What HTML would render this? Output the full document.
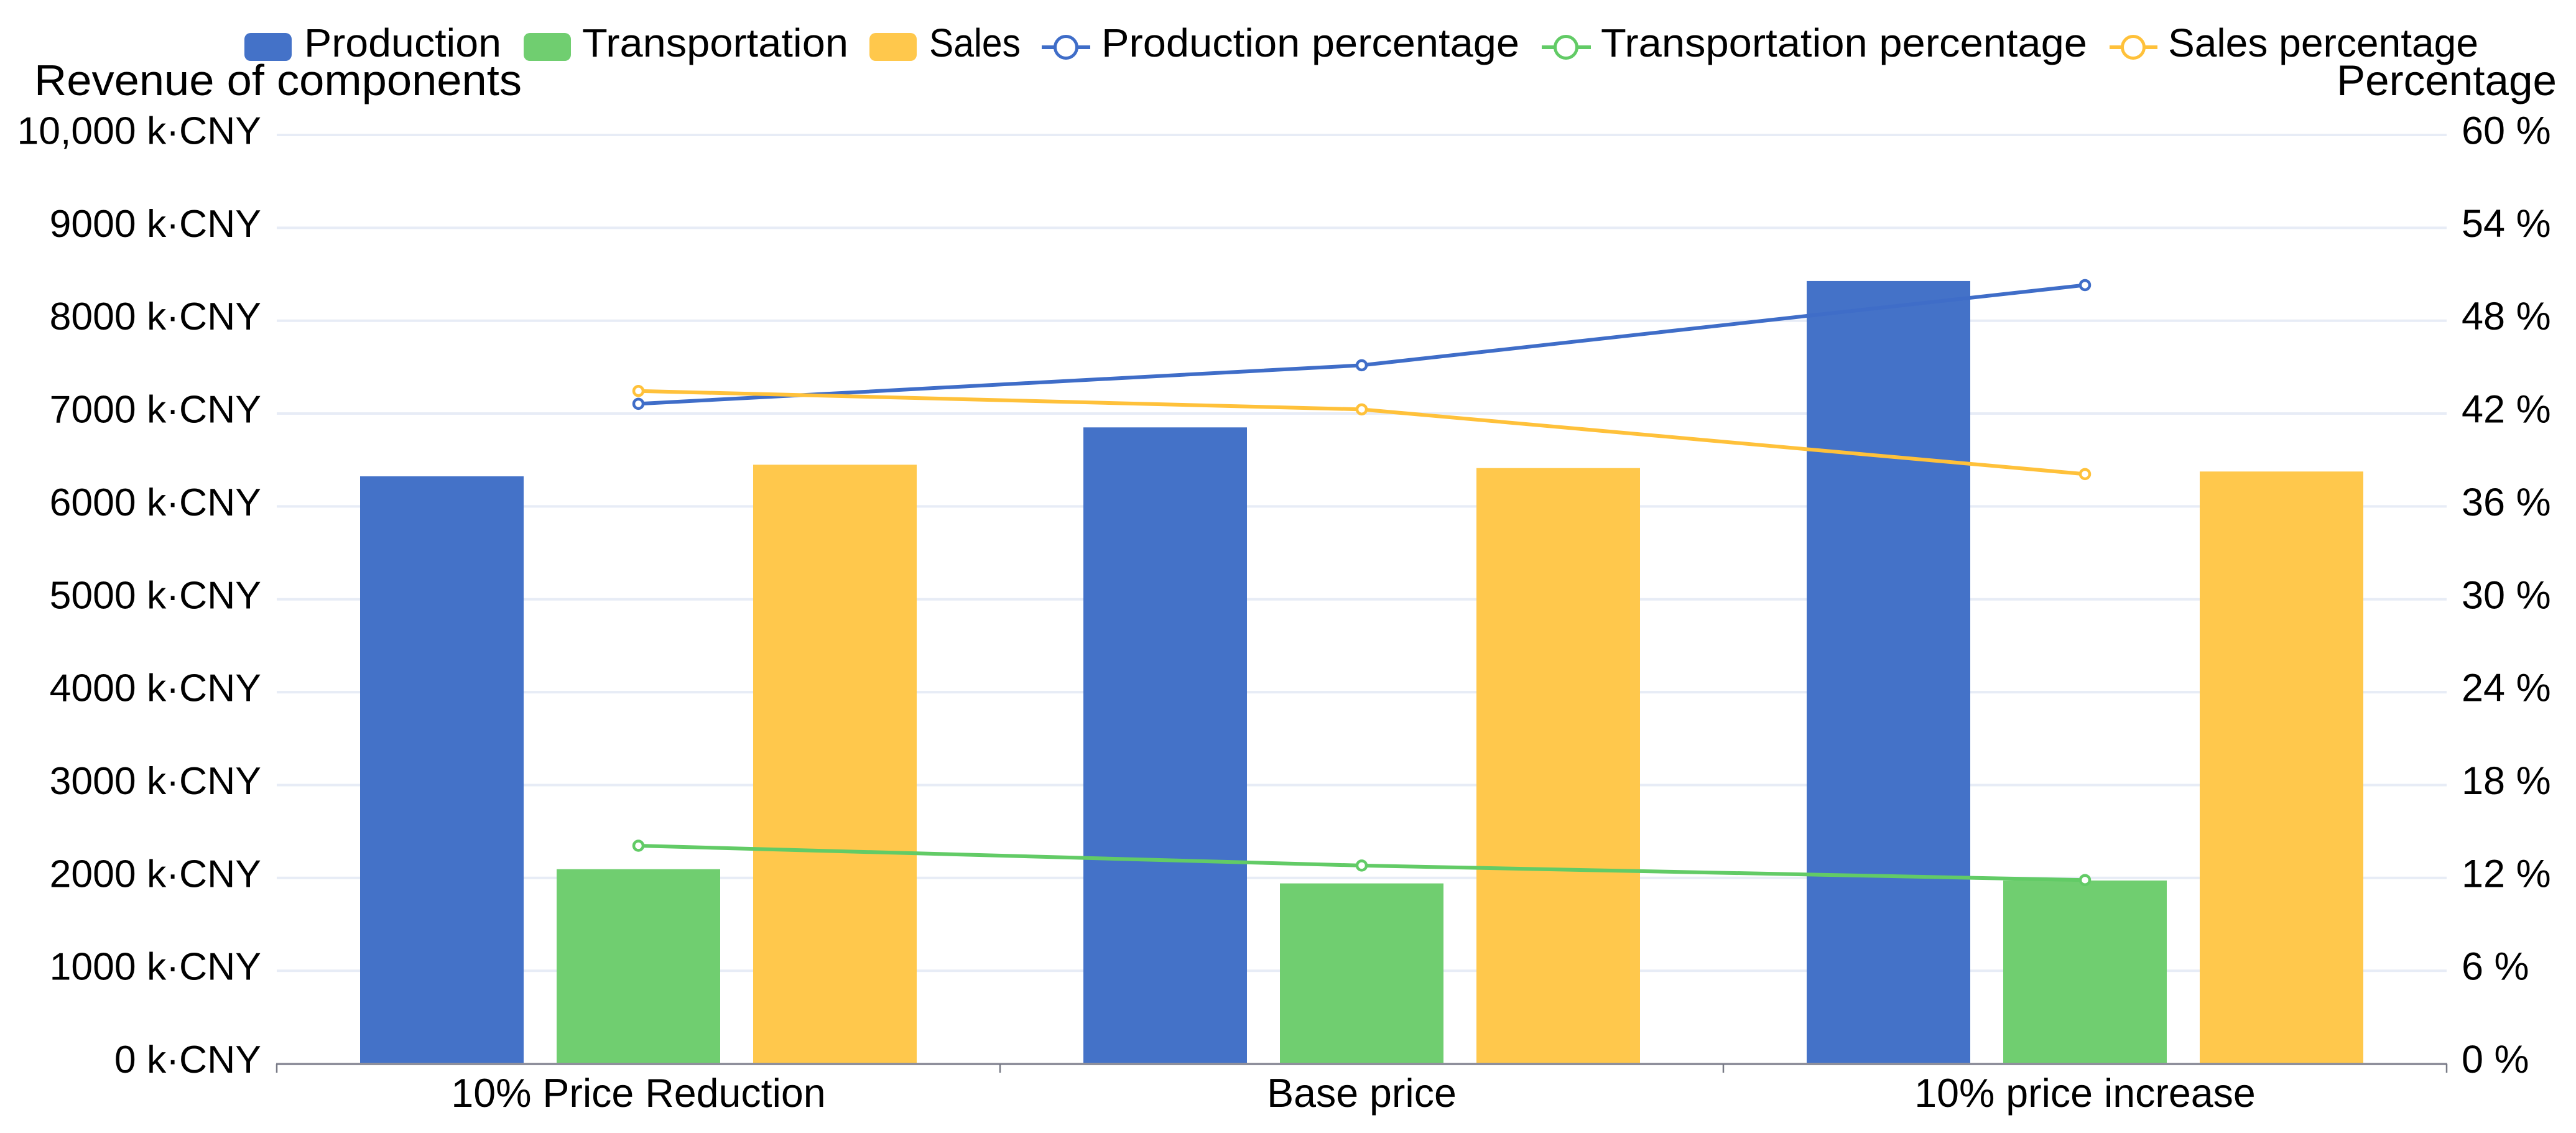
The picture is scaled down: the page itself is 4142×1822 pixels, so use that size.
<!DOCTYPE html>
<html lang="en">
<head>
<meta charset="utf-8">
<title>Revenue of components</title>
<style>
html,body{margin:0;padding:0;background:#fff;width:4142px;height:1822px;overflow:hidden}
svg{display:block}
text{font-family:"Liberation Sans",Arial,sans-serif;fill:#000}
</style>
</head>
<body>
<svg id="chart" xmlns="http://www.w3.org/2000/svg" width="4142" height="1822" viewBox="0 0 4142 1822">
  <rect x="0" y="0" width="4142" height="1822" fill="#ffffff"/>
  <g id="grid"></g>
  <g id="bars"></g>
  <g id="axis"></g>
  <g id="lines"></g>
  <g id="ticks"></g>

  <text x="55" y="153" font-size="70" textLength="784" lengthAdjust="spacingAndGlyphs">Revenue of components</text>
  <text x="3757" y="153" font-size="69" textLength="354" lengthAdjust="spacingAndGlyphs">Percentage</text>

  <g font-size="64">
    <g>
      <rect x="393" y="53" width="76" height="45" rx="10" fill="#4472C8"/>
      <text x="489" y="91" font-size="64" textLength="317" lengthAdjust="spacingAndGlyphs">Production</text>
    </g>
    <g>
      <rect x="842" y="53" width="76" height="45" rx="10" fill="#70CE70"/>
      <text x="936" y="91" font-size="64" textLength="428" lengthAdjust="spacingAndGlyphs">Transportation</text>
    </g>
    <g>
      <rect x="1398" y="53" width="76" height="45" rx="10" fill="#FFC84C"/>
      <text x="1494" y="91" font-size="64" textLength="147" lengthAdjust="spacingAndGlyphs">Sales</text>
    </g>
    <g>
      <line x1="1675" y1="76" x2="1753" y2="76" stroke="#3F6DC8" stroke-width="6"/>
      <circle cx="1714" cy="76" r="17.5" fill="#fff" stroke="#3F6DC8" stroke-width="5"/>
      <text x="1771" y="91" font-size="64" textLength="672" lengthAdjust="spacingAndGlyphs">Production percentage</text>
    </g>
    <g>
      <line x1="2479" y1="76" x2="2558" y2="76" stroke="#62CB66" stroke-width="6"/>
      <circle cx="2518" cy="76" r="17.5" fill="#fff" stroke="#62CB66" stroke-width="5"/>
      <text x="2574" y="91" font-size="64" textLength="782" lengthAdjust="spacingAndGlyphs">Transportation percentage</text>
    </g>
    <g>
      <line x1="3392" y1="76" x2="3469" y2="76" stroke="#FFC13A" stroke-width="6"/>
      <circle cx="3430" cy="76" r="17.5" fill="#fff" stroke="#FFC13A" stroke-width="5"/>
      <text x="3486" y="91" font-size="64" textLength="499" lengthAdjust="spacingAndGlyphs">Sales percentage</text>
    </g>
  </g>
</svg>
<script>
// Chart data
const categories = ["10% Price Reduction", "Base price", "10% price increase"];
const categorySlugs = ["price-reduction", "base-price", "price-increase"];
const production = [6324, 6851, 8427];
const transportation = [2094, 1941, 1972];
const sales = [6449, 6413, 6376];
const productionPct = [42.63, 45.12, 50.3];
const transportationPct = [14.08, 12.8, 11.86];
const salesPct = [43.46, 42.27, 38.09];
const leftTickValues = [0, 1000, 2000, 3000, 4000, 5000, 6000, 7000, 8000, 9000, 10000];
const leftTickLabels = ["0 k·CNY", "1000 k·CNY", "2000 k·CNY", "3000 k·CNY", "4000 k·CNY", "5000 k·CNY", "6000 k·CNY", "7000 k·CNY", "8000 k·CNY", "9000 k·CNY", "10,000 k·CNY"];
const rightTickValues = [0, 6, 12, 18, 24, 30, 36, 42, 48, 54, 60];
const rightTickLabels = ["0 %", "6 %", "12 %", "18 %", "24 %", "30 %", "36 %", "42 %", "48 %", "54 %", "60 %"];

// Layout
const plotLeft = 445, plotRight = 3934, plotBottom = 1710.5, plotTop = 217;
const leftMax = 10000, rightMax = 60;
const bandWidth = (plotRight - plotLeft) / categories.length;
const barWidth = 263, barStep = 316;

function yLeft(v) { return plotBottom - (v / leftMax) * (plotBottom - plotTop); }
function yRight(v) { return plotBottom - (v / rightMax) * (plotBottom - plotTop); }
function xCenter(i) { return plotLeft + bandWidth * (i + 0.5); }

const NS = "http://www.w3.org/2000/svg";
function make(tag, attrs, parent) {
  const el = document.createElementNS(NS, tag);
  for (const k in attrs) el.setAttribute(k, attrs[k]);
  parent.appendChild(el);
  return el;
}

const gridG = document.getElementById("grid");
const barsG = document.getElementById("bars");
const axisG = document.getElementById("axis");
const linesG = document.getElementById("lines");
const ticksG = document.getElementById("ticks");

// Gridlines (skip the baseline, which is the axis)
leftTickValues.forEach(function (v) {
  if (v === 0) return;
  const y = yLeft(v);
  const el = make("line", { x1: plotLeft, x2: plotRight, y1: y, y2: y, stroke: "#E7ECF6", "stroke-width": 4 }, gridG);
  
  
});

// Bars
const barSeries = [
  { name: "production", values: production, color: "#4472C8", offset: -1 },
  { name: "transportation", values: transportation, color: "#70CE70", offset: 0 },
  { name: "sales", values: sales, color: "#FFC84C", offset: 1 }
];
barSeries.forEach(function (s) {
  s.values.forEach(function (v, i) {
    const cx = xCenter(i) + s.offset * barStep;
    const top = yLeft(v);
    const el = make("rect", { x: cx - barWidth / 2, y: top, width: barWidth, height: plotBottom - top, fill: s.color }, barsG);
    
    
  });
});

// X axis line, ticks and labels
const axisLine = make("line", { x1: plotLeft - 1, x2: plotRight + 1, y1: 1711, y2: 1711, stroke: "#8F909C", "stroke-width": 4 }, axisG);


for (let i = 0; i <= categories.length; i++) {
  const x = plotLeft + bandWidth * i;
  const tick = make("line", { x1: x, x2: x, y1: 1711, y2: 1725, stroke: "#777985", "stroke-width": 2.5 }, axisG);
  
  
}
categories.forEach(function (c, i) {
  const t = make("text", { x: xCenter(i), y: 1780, "font-size": 64.5, "text-anchor": "middle" }, axisG);
  t.textContent = c;
  
  
});

// Y axis tick labels
leftTickValues.forEach(function (v, i) {
  const t = make("text", { x: 420, y: yLeft(v) + 14.5, "font-size": 62.5, "text-anchor": "end" }, ticksG);
  t.textContent = leftTickLabels[i];
  
  
});
rightTickValues.forEach(function (v, i) {
  const t = make("text", { x: 3958, y: yRight(v) + 14.5, "font-size": 63 }, ticksG);
  t.textContent = rightTickLabels[i];
  
  
});

// Percentage lines with markers
const lineSeries = [
  { name: "production-percentage", values: productionPct, color: "#3F6DC8" },
  { name: "transportation-percentage", values: transportationPct, color: "#62CB66" },
  { name: "sales-percentage", values: salesPct, color: "#FFC13A" }
];
lineSeries.forEach(function (s) {
  const pts = s.values.map(function (v, i) { return xCenter(i) + "," + yRight(v); }).join(" ");
  const line = make("polyline", { points: pts, fill: "none", stroke: s.color, "stroke-width": 6, "stroke-linejoin": "round" }, linesG);
  
  
  s.values.forEach(function (v, i) {
    const dot = make("circle", { cx: xCenter(i), cy: yRight(v), r: 7.5, fill: "#fff", stroke: s.color, "stroke-width": 4.5 }, linesG);
    
    
  });
});
</script>
</body>
</html>
